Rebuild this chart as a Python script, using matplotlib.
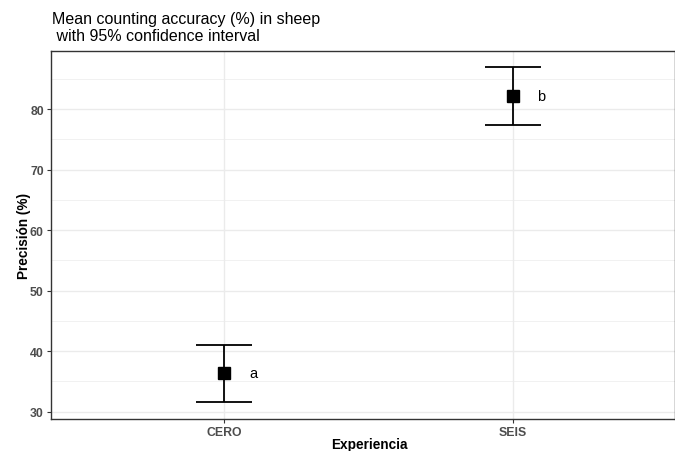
import matplotlib.pyplot as plt

plt.rcParams['font.family'] = ['Liberation Sans', 'DejaVu Sans']

groups = ["CERO", "SEIS"]
means = [36.4, 82.1]
lower = [31.6, 77.4]
upper = [41.0, 86.9]
letters = ["a", "b"]

W, H = 675, 452
fig = plt.figure(figsize=(W / 100, H / 100), dpi=100)
ax = fig.add_axes([51 / W, 1 - 420 / H, (675 - 51) / W, (420 - 52) / H])

xs = list(range(1, len(groups) + 1))
for x, m, lo, hi, lab in zip(xs, means, lower, upper, letters):
    ax.errorbar(x, m, yerr=[[m - lo], [hi - m]], fmt="none", ecolor="black",
                elinewidth=1.3, capsize=20, capthick=1.3, zorder=3)
    ax.plot(x, m, marker="s", color="black", markersize=9, zorder=4)
    ax.text(x + 0.1, m, lab, fontsize=10.5, ha="center", va="center")

ax.set_xlim(0.399, 2.5625)
ax.set_ylim(28.8, 89.6)
ax.set_xticks(xs)
ax.set_xticklabels(groups)
ax.set_yticks([30, 40, 50, 60, 70, 80])
ax.set_yticks([35, 45, 55, 65, 75, 85], minor=True)

ax.grid(True, which="major", color="#ebebeb", linewidth=1.0, zorder=0)
ax.grid(True, which="minor", axis="y", color="#ebebeb", linewidth=0.5, zorder=0)
ax.set_axisbelow(True)

for s in ax.spines.values():
    s.set_color("#333333")
    s.set_linewidth(1.0)

ax.tick_params(which="major", length=3, color="#333333", labelcolor="#4d4d4d",
               labelsize=8.8, pad=2.2)
ax.tick_params(which="minor", length=0)
for t in ax.get_xticklabels() + ax.get_yticklabels():
    t.set_fontweight("bold")

# axis titles placed in figure pixels
fig.text(369 / W, 1 - 449 / H, "Experiencia", fontsize=9.8, fontweight="bold",
         ha="center", va="baseline")
fig.text(24 / W, 1 - 236 / H, "Precisión (%)", fontsize=9.8, fontweight="bold",
         ha="center", va="center", rotation=90)

fig.text(52 / W, 1 - 12 / H, "Mean counting accuracy (%) in sheep\n with 95% confidence interval",
         fontsize=11.5, ha="left", va="top", linespacing=1.15)

fig.savefig("out.png", dpi=100)
